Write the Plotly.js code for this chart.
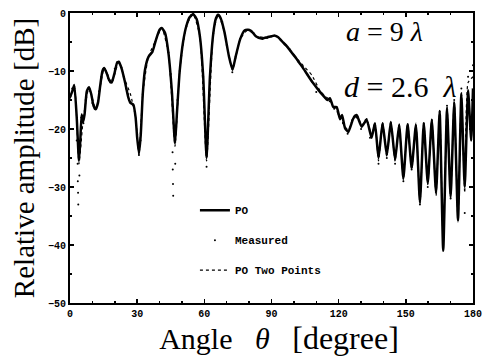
<!DOCTYPE html>
<html>
<head>
<meta charset="utf-8">
<script src="https://cdn.plot.ly/plotly-3.0.1.min.js"></script>
<style>html,body{margin:0;padding:0;background:#fff;}#chart{width:486px;height:358px;}</style>
</head>
<body>
<div id="chart"></div>
<script>
// PO (solid line): angle [deg], relative amplitude [dB]
const poTheta = [0,1,1.9,3,4,4.6,5.2,5.8,6.5,7.5,8.5,9.5,10.5,11.5,12.5,13.5,14.5,15.3,16.5,17.5,18.6,19.8,21,21.8,23,24.5,26,27,28.3,29.3,30,30.8,31.6,32.5,33.5,35,36.8,38.5,40,41,42.5,44,45.5,46.9,47.8,49,50.5,52,53.5,55,56.5,58,59.5,61,62.5,64,65.2,66.2,67.3,69,71,72.6,74,76,78,79.5,81,83,85.5,88,90,91.5,93,95,97,99,101,103,105,107,109,111,113,115,116.1,117.6,119.1,120.6,121.5,122.8,124.3,126.5,128,130.3,132.5,134.7,136.2,137.8,139.6,141.5,143.3,145.2,147,148.9,150.8,152.6,154.5,156.3,158,159.8,161.6,163.5,165.1,166.7,168.4,170,171.6,173.3,174.8,176.3,177.8,179.2,180];
const poDb = [-14.5,-13.5,-12.4,-18,-25.5,-22,-17.5,-18.8,-17.5,-13.5,-12.8,-14,-16,-16.6,-15.5,-12.5,-10,-9.5,-10.5,-11.6,-12,-10.5,-8.6,-8.4,-9.5,-11.8,-14.5,-15.5,-15.8,-18,-21.5,-24.2,-21,-14,-9.8,-7.6,-6.7,-4.5,-2.9,-2.6,-3.5,-7,-13.5,-22.5,-17,-10,-5,-2.2,-0.7,-0.2,-1,-4,-11,-25,-11,-3.5,-0.9,-0.3,-0.9,-3.3,-7.5,-9.8,-7.5,-4.5,-3,-2.9,-3.1,-4,-4.4,-4.2,-4,-3.9,-4.2,-5,-5.8,-6.8,-7.8,-8.9,-10,-11.2,-12.3,-13.3,-14.2,-15,-14.7,-16.2,-16.2,-18.3,-17.6,-19.8,-20.5,-18.2,-17.6,-19.6,-18.4,-21.5,-19,-25,-19,-24.5,-18.8,-25.3,-19.3,-28.5,-19.2,-26.7,-19.3,-32.6,-19,-29.3,-18.5,-31,-17,-41,-16.5,-31.7,-15.5,-35.7,-14,-30,-13.3,-22,-13];

// Measured (dots)
const measTheta = [0,1,2,3,3.4,3.5,3.6,3.7,4.2,5,6,7,8,9,10,11,12,13,14,15,16,17,18,19,20,21,22,23,24,25,26,27,28,29,30,30.8,31.5,32.5,34,36,38,40,42,44,45,45.8,45.9,46,46.1,47,48,49,50,52,54,55,56,58,59.5,60.8,61,61.2,62.5,64,66,68,70,72.5,74,76,78,80,82,84,86,88,90,92,94,96,98,100,102,104,106,108,110,112,114,116,118,120,122,124,126,128,130,132,134,136,137.8,139.6,141.5,143.3,145.2,147,148.9,150.8,152.6,154.5,156.3,158,159.8,161.6,163.5,165.1,166.7,168.4,170,171.6,173.3,174.8,176.3,177.8,179,180];
const measDb = [-15,-13,-13,-22,-26,-29,-31,-33,-28,-18,-19,-15,-13,-13.5,-15.5,-16.5,-16,-13.5,-11,-9.6,-10,-11.2,-12,-11.5,-9.6,-8.5,-8.5,-9.4,-11,-13,-14,-15.3,-15.8,-17.5,-21,-24.5,-22,-14,-8.8,-7,-5,-3,-3.1,-6.8,-10.5,-24,-27,-29.5,-31.5,-26,-15,-10,-6,-2.3,-0.4,-0.2,-0.6,-4,-11,-24,-26.5,-24,-11,-3.5,-0.3,-1.5,-5.5,-10.2,-7.5,-4.5,-3,-2.9,-3.5,-4.2,-4.5,-4.3,-4,-4,-4.6,-5.4,-6.2,-7.3,-8.4,-9.2,-10.6,-11.8,-13.6,-13.8,-14.6,-15.2,-16.5,-17.5,-19,-20.8,-18.5,-18,-20,-18.5,-21.5,-19.5,-26,-19.5,-25,-19,-26,-19.5,-29,-19.5,-27,-19.5,-33,-19,-30,-18.5,-30,-17,-39,-16,-32,-15,-34,-13,-34.5,-11,-20,-9];

// PO Two Points (dotted line)
const twoTheta = [0,2,4,6,8.5,11.5,15.3,18.6,21.8,24.5,27,29.3,30.8,32.5,35,38.5,41,44,46.9,49,52,55,58,61,64,66.2,69,72.6,76,79.5,83,88,92,96,100,104,108,112,116,120,122.8,124.3,126.5,128,130.3,132.5,134.7,136.2,137.8,139.6,141.5,143.3,145.2,147,148.9,150.8,152.6,154.5,156.3,158,159.8,161.6,163.5,165.1,166.7,168.4,170,171.6,173.3,174.8,176.3,177.8,180];
const twoDb = [-14.8,-12.6,-26,-18,-12.8,-16.6,-9.5,-12,-8.4,-11.5,-14,-18,-24.5,-14,-7.6,-4.5,-2.6,-7,-23,-10,-2.2,-0.2,-4,-25.5,-3.5,-0.3,-3.3,-9.8,-4.5,-2.9,-4,-4.2,-4,-5.4,-7.3,-9,-10.7,-13.6,-15,-17.5,-19.6,-20.2,-18,-17.4,-19.4,-18.2,-21.2,-18.8,-25.5,-18.8,-24.8,-18.6,-25.6,-19,-28.8,-19,-27,-19,-33,-18.8,-29.6,-18.3,-31.5,-16.8,-40,-16,-32,-15,-36,-13.5,-31,-12,-11];

const xTicks = [0,30,60,90,120,150,180];
const yTicks = [0,-10,-20,-30,-40,-50];

const mono = 'Liberation Mono, DejaVu Sans Mono, monospace';
const tickFont = {family: mono, size: 10, color:'#000', weight:'bold'};
const serif = 'Liberation Serif, DejaVu Serif, serif';

const traces = [
  {x: poTheta, y: poDb, name: 'PO', mode: 'lines', legendgroup: 'a',
   line: {color: '#000', width: 2.5, shape: 'spline', smoothing: 0.5}},
  {x: measTheta, y: measDb, name: 'Measured', mode: 'markers', legendgroup: 'b',
   marker: {color: '#000', size: 2}},
  {x: twoTheta, y: twoDb, name: 'PO Two Points', mode: 'lines', legendgroup: 'c',
   line: {color: '#000', width: 1.2, dash: 'dot', shape: 'spline', smoothing: 0.5}}
];

const layout = {
  width: 486, height: 358,
  margin: {l: 70, r: 13, t: 13, b: 55},
  paper_bgcolor: '#fff', plot_bgcolor: '#fff',
  showlegend: true,
  legend: {x: 0.31, y: 0.37, xanchor: 'left', yanchor: 'top',
           font: {family: mono, size: 11, color: '#000', weight: 'bold'},
           bgcolor: 'rgba(0,0,0,0)', itemwidth: 30, traceorder: 'grouped', tracegroupgap: 11},
  xaxis: {range: [0, 180], tickvals: xTicks, ticktext: xTicks.map(String),
          ticks: 'inside', ticklen: 4, tickwidth: 1.5, tickcolor: '#000',
          minor: {dtick: 10, ticks: 'inside', ticklen: 2, tickcolor: '#000'},
          showline: true, linecolor: '#000', linewidth: 2, mirror: 'ticks',
          showgrid: false, zeroline: false, tickfont: tickFont,
          title: {text: '&nbsp;&nbsp;Angle&nbsp;&nbsp;&nbsp;<i>θ</i>&nbsp;&nbsp;&nbsp;<span style="font-size:32px">[degree]</span>', font: {family: serif, size: 30, color: '#000'}, standoff: 8}},
  yaxis: {range: [-50, 0], tickvals: yTicks, ticktext: yTicks.map(v => v === 0 ? '0' : '\u2212' + Math.abs(v)),
          ticks: 'inside', ticklen: 4, tickwidth: 1.5, tickcolor: '#000',
          minor: {dtick: 5, ticks: 'inside', ticklen: 2, tickcolor: '#000'},
          showline: true, linecolor: '#000', linewidth: 2, mirror: 'ticks',
          showgrid: false, zeroline: false, tickfont: tickFont,
          title: {text: 'Relative amplitude [dB]', font: {family: serif, size: 29, color: '#000'}, standoff: 5}},
  annotations: [
    {xref: 'paper', yref: 'paper', x: 0.68, y: 0.935, xanchor: 'left', yanchor: 'middle', showarrow: false,
     text: '<i>a</i> = 9 <i>λ</i>', font: {family: serif, size: 28, color: '#000'}},
    {xref: 'paper', yref: 'paper', x: 0.675, y: 0.745, xanchor: 'left', yanchor: 'middle', showarrow: false,
     text: '<i>d</i> = 2.6&nbsp;&nbsp;<i>λ</i>', font: {family: serif, size: 30, color: '#000'}}
  ]
};

Plotly.newPlot('chart', traces, layout, {displayModeBar: false, staticPlot: true});
</script>
</body>
</html>
